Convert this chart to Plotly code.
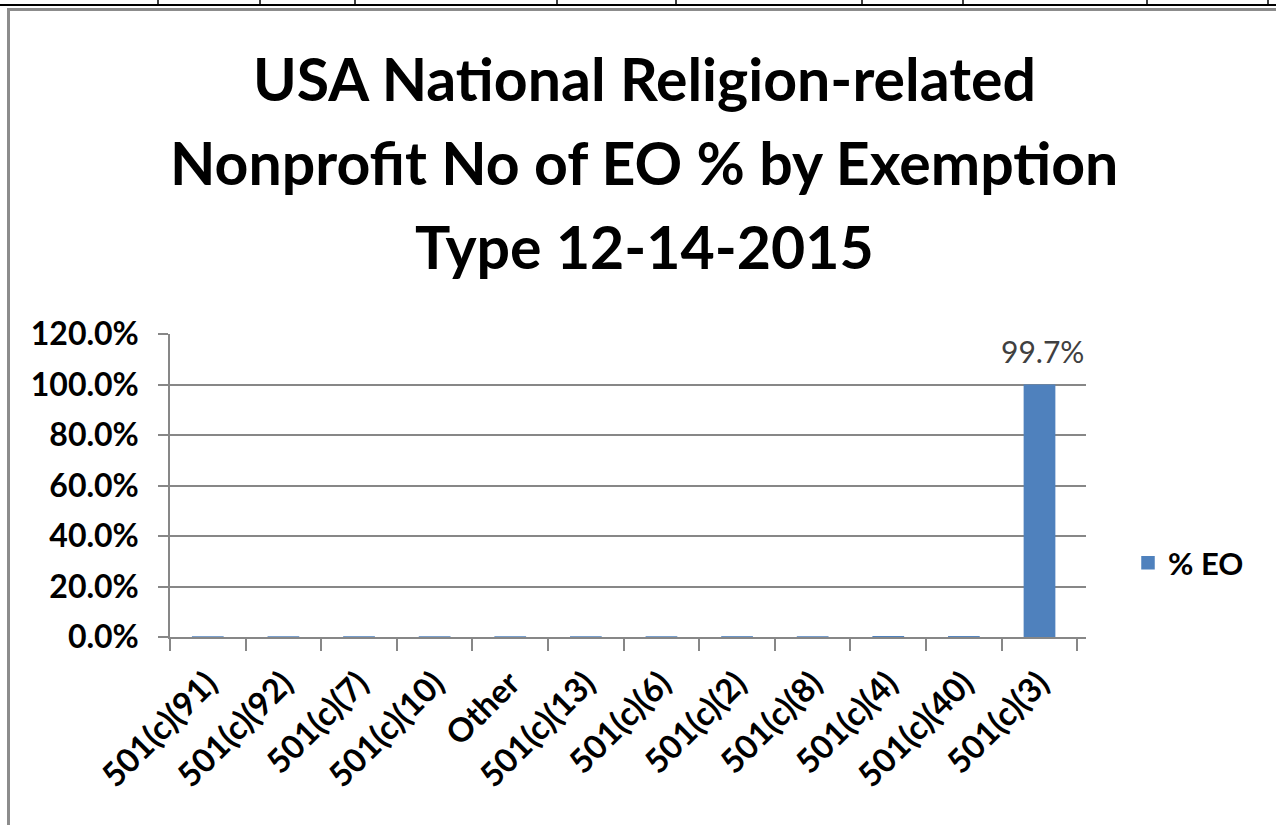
import plotly.graph_objects as go

categories = ["501(c)(91)", "501(c)(92)", "501(c)(7)", "501(c)(10)", "Other",
              "501(c)(13)", "501(c)(6)", "501(c)(2)", "501(c)(8)", "501(c)(4)",
              "501(c)(40)", "501(c)(3)"]
pct_eo = [0.0001, 0.0001, 0.0001, 0.0001, 0.0002, 0.0002, 0.0002, 0.0003,
          0.0004, 0.0005, 0.0008, 0.997]
labels = ["", "", "", "", "", "", "", "", "", "", "", "99.7%"]
y_ticks = [0, 0.2, 0.4, 0.6, 0.8, 1.0, 1.2]
title_lines = ["USA National Religion-related",
               "Nonprofit No of EO % by Exemption",
               "Type 12-14-2015"]

W, H = 1276, 825
L, R, T, B = 170, 1086, 334, 637
pw, ph = R - L, B - T


def px(x):
    return (x - L) / pw


def py(y):
    return (B - y) / ph


BLUE = "#4f81bd"
GRID = "#878787"
FONT = "Lato"

fig = go.Figure()
fig.add_trace(go.Bar(
    x=categories, y=pct_eo, name="% EO", width=0.4,
    marker=dict(color=BLUE, line=dict(color=BLUE, width=1.5)),
    showlegend=True,
))

annotations = []
for cat, val, lab in zip(categories, pct_eo, labels):
    if lab:
        annotations.append(dict(
            x=cat, y=val, xref="x", yref="y", text=lab, showarrow=False,
            xanchor="center", yanchor="bottom", yshift=14, xshift=3,
            font=dict(family=FONT, size=30, color="#404040"),
        ))
for i, line in enumerate(title_lines):
    annotations.append(dict(
        x=px(644), y=py([79, 162, 246][i]), xref="paper", yref="paper",
        text=line, showarrow=False, xanchor="center", yanchor="middle",
        font=dict(family=FONT, size=59, color="black", weight="bold"),
    ))

shapes = []
# spreadsheet cell borders at the top
shapes.append(dict(type="line", xref="paper", yref="paper",
                   x0=px(0), x1=px(W), y0=py(5), y1=py(5),
                   line=dict(color="black", width=2)))
for vx in [158, 260, 355, 557, 676, 862, 963, 1147, 1268]:
    shapes.append(dict(type="line", xref="paper", yref="paper",
                       x0=px(vx), x1=px(vx), y0=py(0), y1=py(5),
                       line=dict(color="black", width=1.5)))
# chart frame (gray)
shapes.append(dict(type="line", xref="paper", yref="paper",
                   x0=px(8.5), x1=px(W), y0=py(9.5), y1=py(9.5),
                   line=dict(color="#8c8c8c", width=3)))
shapes.append(dict(type="line", xref="paper", yref="paper",
                   x0=px(8.5), x1=px(8.5), y0=py(8), y1=py(H),
                   line=dict(color="#8c8c8c", width=3)))

fig.update_layout(
    width=W, height=H,
    margin=dict(l=L, r=W - R, t=T, b=H - B, autoexpand=False),
    paper_bgcolor="white", plot_bgcolor="white",
    xaxis=dict(
        type="category", tickangle=-45, tickson="boundaries",
        ticks="outside", ticklen=12, tickcolor=GRID, tickwidth=1.5,
        showline=True, linecolor=GRID, linewidth=1.5,
        showgrid=False,
        tickfont=dict(family=FONT, size=33, color="black", weight="bold"),
        ticklabelstandoff=12,
    ),
    yaxis=dict(
        range=[0, 1.2], tickvals=y_ticks, tickformat=".1%",
        ticks="outside", ticklen=10, tickcolor=GRID, tickwidth=1.5,
        showline=True, linecolor=GRID, linewidth=1.5,
        showgrid=True, gridcolor=GRID, gridwidth=1.5,
        zeroline=False,
        tickfont=dict(family=FONT, size=32, color="black", weight="bold"),
        ticklabelstandoff=13,
    ),
    legend=dict(
        x=px(1128), y=py(563), xanchor="left", yanchor="middle",
        font=dict(family=FONT, size=31, color="black", weight="bold"),
        bgcolor="rgba(0,0,0,0)", itemwidth=30,
    ),
    annotations=annotations,
    shapes=shapes,
    bargap=0.6,
)

fig.write_html("out.html", config={"displayModeBar": False},
               post_script="document.body.style.margin='0';")
